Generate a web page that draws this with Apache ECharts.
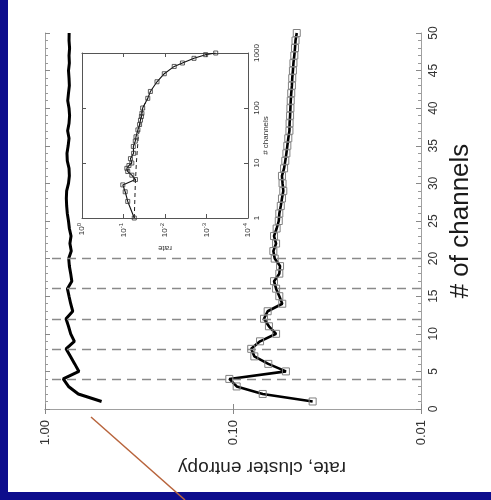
<!DOCTYPE html>
<html>
<head>
<meta charset="utf-8">
<script src="https://cdn.jsdelivr.net/npm/echarts@6/dist/echarts.min.js"></script>
<style>
  html, body { margin: 0; padding: 0; background: #0d0d8c; }
  #panel { position: absolute; left: 8px; top: 0; width: 483px; height: 492px; background: #ffffff; }
  #chart { position: absolute; left: 0; top: 0; width: 491px; height: 500px; }
</style>
</head>
<body>
<div id="panel"></div>
<div id="chart"></div>
<script>
// Number of channels 1..50 (main plot)
const channels = [1,2,3,4,5,6,7,8,9,10,11,12,13,14,15,16,17,18,19,20,21,22,23,24,25,
                  26,27,28,29,30,31,32,33,34,35,36,37,38,39,40,41,42,43,44,45,46,47,48,49,50];
// Cluster entropy per channel count
const entropy = [0.50,0.665,0.75,0.80,0.66,0.695,0.733,0.773,0.698,0.73,
                 0.75,0.773,0.712,0.73,0.745,0.76,0.72,0.73,0.742,0.748,
                 0.725,0.737,0.727,0.742,0.75,0.761,0.767,0.77,0.767,0.75,
                 0.742,0.745,0.761,0.764,0.753,0.745,0.758,0.745,0.74,0.745,
                 0.757,0.75,0.742,0.745,0.75,0.742,0.745,0.74,0.745,0.744];
// Rate per channel count
const rate = [0.0377,0.0695,0.0956,0.1046,0.0523,0.0649,0.077,0.080,0.0718,0.059,
              0.0644,0.0684,0.0654,0.0547,0.0567,0.059,0.0605,0.0567,0.0562,0.060,
              0.061,0.059,0.0605,0.0586,0.0571,0.0567,0.0557,0.0549,0.054,0.0545,
              0.0549,0.0535,0.0527,0.052,0.0514,0.0508,0.0501,0.050,0.0497,0.0495,
              0.0493,0.049,0.0486,0.0484,0.048,0.0477,0.0472,0.0468,0.0465,0.0458];
// Highlighted channel counts (dashed guides)
const guideChannels = [4, 8, 12, 16, 20];

// Inset: rate over a wide channel range
const insetChannels = [1,2,3,4,5,6,7,8,9,10,12,15,20,25,30,40,50,60,70,80,100,150,200,300,420,570,658,800,933,1000];
const insetRate = [0.055,0.079,0.091,0.104,0.0515,0.063,0.079,0.083,0.074,0.063,
                   0.068,0.057,0.058,0.052,0.05,0.045,0.041,0.039,0.037,0.036,
                   0.0345,0.026,0.0225,0.0156,0.0104,0.006,0.0038,0.002,0.00105,0.0006];
// Inset: smooth reference curve
const fitChannels = [1,4,10,30,60,100,150];
const fitRate = [0.055,0.052,0.049,0.044,0.039,0.0345,0.026];

// Axis tick labels
const mainRateTicks = [0.01, 0.1, 1];

const FONT = 'Liberation Sans, Arial, sans-serif';
const frameGray = '#a0a0a0';
const insetGray = '#555555';

const pairs = (xs, ys) => xs.map((n, i) => [ys[i], n]);

const chart = echarts.init(document.getElementById('chart'), null, { renderer: 'canvas' });

const mainTick = { show: true, inside: true, length: 5, lineStyle: { color: '#888', width: 1 } };
const mainMinor = { show: true, splitNumber: 5, length: 3, lineStyle: { color: '#999', width: 1 } };
const insetTick = { show: true, inside: true, length: 4, lineStyle: { color: insetGray, width: 1 } };

const supRich = {
  b: { fontSize: 8, fontFamily: FONT, color: '#333' },
  s: { fontSize: 6, fontFamily: FONT, color: '#333', padding: [0, 0, 5, 0] }
};

chart.setOption({
  animation: false,
  textStyle: { fontFamily: FONT },
  grid: [
    { left: 45, top: 33, width: 376, height: 376 },
    { left: 82, top: 53, width: 166, height: 165 }
  ],
  xAxis: [
    {
      gridIndex: 0, type: 'log', logBase: 10, min: 0.01, max: 1, inverse: true,
      position: 'bottom',
      axisLine: { show: true, lineStyle: { color: frameGray, width: 1 } },
      axisTick: mainTick,
      splitLine: { show: false },
      axisLabel: {
        rotate: 90, margin: 11, fontSize: 13, color: '#333',
        formatter: v => mainRateTicks.some(t => Math.abs(t - v) / t < 1e-6) ? v.toFixed(2) : ''
      },
      name: 'rate, cluster entropy', nameLocation: 'middle', nameRotate: 180, nameGap: 49,
      nameTextStyle: { fontSize: 19, color: '#222', padding: [0, 58, 0, 0] }
    },
    {
      gridIndex: 0, type: 'log', logBase: 10, min: 0.01, max: 1, inverse: true,
      position: 'top',
      axisLine: { show: true, lineStyle: { color: frameGray, width: 1 } },
      axisTick: mainTick, axisLabel: { show: false }, splitLine: { show: false }
    },
    {
      gridIndex: 1, type: 'log', logBase: 10, min: 0.0001, max: 1, inverse: true,
      position: 'bottom',
      axisLine: { show: true, lineStyle: { color: insetGray, width: 1 } },
      axisTick: insetTick, splitLine: { show: false },
      axisLabel: {
        rotate: 90, margin: 5, rich: supRich,
        formatter: v => '{b|10}{s|' + Math.round(Math.log10(v)) + '}'
      },
      name: 'rate', nameLocation: 'middle', nameRotate: 180, nameGap: 26,
      nameTextStyle: { fontSize: 8, color: '#333' }
    },
    {
      gridIndex: 1, type: 'log', logBase: 10, min: 0.0001, max: 1, inverse: true,
      position: 'top',
      axisLine: { show: true, lineStyle: { color: insetGray, width: 1 } },
      axisTick: insetTick, axisLabel: { show: false }, splitLine: { show: false }
    }
  ],
  yAxis: [
    {
      gridIndex: 0, type: 'value', min: 0, max: 50, interval: 5, position: 'right',
      axisLine: { show: true, lineStyle: { color: frameGray, width: 1 } },
      axisTick: mainTick, minorTick: mainMinor, splitLine: { show: false },
      axisLabel: { rotate: 90, margin: 7, fontSize: 12, color: '#333' },
      name: '# of channels', nameLocation: 'middle', nameRotate: 90, nameGap: 25,
      nameTextStyle: { fontSize: 26, color: '#1a1a1a' }
    },
    {
      gridIndex: 0, type: 'value', min: 0, max: 50, interval: 5, position: 'left',
      axisLine: { show: true, lineStyle: { color: frameGray, width: 1 } },
      axisTick: mainTick, minorTick: mainMinor, splitLine: { show: false },
      axisLabel: { show: false }
    },
    {
      gridIndex: 1, type: 'log', logBase: 10, min: 1, max: 1000, position: 'right',
      axisLine: { show: true, lineStyle: { color: insetGray, width: 1 } },
      axisTick: insetTick, splitLine: { show: false },
      axisLabel: { rotate: 90, margin: 5, fontSize: 8, color: '#333', formatter: v => String(Math.round(v)) },
      name: '# channels', nameLocation: 'middle', nameRotate: 90, nameGap: 14,
      nameTextStyle: { fontSize: 8, color: '#333' }
    },
    {
      gridIndex: 1, type: 'log', logBase: 10, min: 1, max: 1000, position: 'left',
      axisLine: { show: true, lineStyle: { color: insetGray, width: 1 } },
      axisTick: insetTick, axisLabel: { show: false }, splitLine: { show: false }
    }
  ],
  series: [
    {
      name: 'guides', type: 'line', xAxisIndex: 0, yAxisIndex: 0, data: [], z: 1,
      markLine: {
        silent: true, symbol: 'none', animation: false,
        label: { show: false },
        lineStyle: { color: '#8a8a8a', width: 1.4, type: [9, 6] },
        data: guideChannels.map(v => ({ yAxis: v }))
      }
    },
    {
      name: 'cluster entropy', type: 'line', xAxisIndex: 0, yAxisIndex: 0, z: 3,
      data: pairs(channels, entropy),
      showSymbol: false, symbol: 'none',
      lineStyle: { color: '#000', width: 3 }
    },
    {
      name: 'rate', type: 'line', xAxisIndex: 0, yAxisIndex: 0, z: 3,
      data: pairs(channels, rate),
      symbol: 'rect', symbolSize: 7, showAllSymbol: true,
      itemStyle: { color: 'rgba(255,255,255,0)', borderColor: '#808080', borderWidth: 1 },
      lineStyle: { color: '#000', width: 2.6 }
    },
    {
      name: 'inset fit', type: 'line', xAxisIndex: 2, yAxisIndex: 2, z: 3,
      data: pairs(fitChannels, fitRate),
      symbol: 'none',
      lineStyle: { color: '#222', width: 1, type: [4, 3] }
    },
    {
      name: 'inset rate', type: 'line', xAxisIndex: 2, yAxisIndex: 2, z: 4,
      data: pairs(insetChannels, insetRate),
      symbol: 'rect', symbolSize: 4, showAllSymbol: true,
      itemStyle: { color: 'rgba(255,255,255,0)', borderColor: '#333', borderWidth: 0.8 },
      lineStyle: { color: '#111', width: 1.1 }
    }
  ],
  graphic: [
    {
      type: 'line', silent: true, z: 10,
      shape: { x1: 91, y1: 417, x2: 185, y2: 500 },
      style: { stroke: '#b8643c', lineWidth: 1.5 }
    }
  ]
});
</script>
</body>
</html>
